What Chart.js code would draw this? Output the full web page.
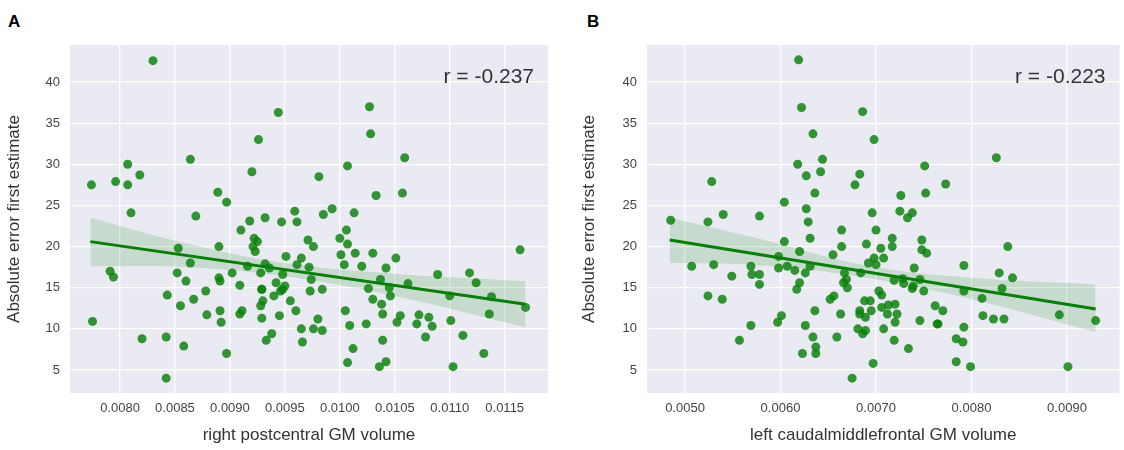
<!DOCTYPE html>
<html>
<head>
<meta charset="utf-8">
<script src="https://cdn.jsdelivr.net/npm/chart.js@4"></script>
<style>
  body { margin: 0; background: #fff; width: 1124px; height: 450px; position: relative; overflow: hidden; font-family: "Liberation Sans", Arial, sans-serif; }
  .panel { position: absolute; top: 0; height: 450px; }
  .tag { position: absolute; top: 12px; font-weight: bold; font-size: 17px; color: #000; }
</style>
</head>
<body>
<div class="tag" style="left:8px">A</div>
<div class="tag" style="left:587px">B</div>
<div class="panel" style="left:0;width:560px"><canvas id="chartA"></canvas></div>
<div class="panel" style="left:575px;width:549px"><canvas id="chartB"></canvas></div>
<script>
// Panel A: right postcentral GM volume vs error
const xA = [0.00830,0.00774,0.00775,0.00796,0.00807,0.00807,0.00818,0.00810,0.00791,0.00794,0.00820,0.00842,0.00842,0.00864,0.00869,0.00853,0.00864,0.00852,0.00860,0.00843,0.00855,0.00867,0.00858,0.00878,0.00879,0.00889,0.00897,0.00890,0.00890,0.00891,0.00891,0.00892,0.00897,0.00902,0.00909,0.00910,0.00918,0.00920,0.00926,0.00922,0.00925,0.00921,0.00923,0.00916,0.00932,0.00932,0.00936,0.00928,0.00929,0.00929,0.00930,0.00928,0.00929,0.00933,0.00911,0.00909,0.00944,0.00947,0.00948,0.00942,0.00950,0.00948,0.00946,0.00940,0.00945,0.00938,0.00951,0.00955,0.00960,0.00959,0.00961,0.00965,0.00961,0.00972,0.00974,0.00973,0.00984,0.00971,0.00976,0.00981,0.00985,0.00993,0.00980,0.00976,0.00984,0.00965,0.00966,0.01007,0.01006,0.01000,0.01007,0.01001,0.01014,0.01004,0.01013,0.01020,0.01026,0.01030,0.01027,0.01028,0.01033,0.01037,0.01042,0.01045,0.01046,0.01030,0.01038,0.01039,0.01005,0.01009,0.01024,0.01012,0.01007,0.01039,0.01036,0.01042,0.01051,0.01059,0.01057,0.01062,0.01055,0.01052,0.01072,0.01070,0.01081,0.01084,0.01078,0.01089,0.01100,0.01101,0.01112,0.01103,0.01118,0.01124,0.01138,0.01136,0.01131,0.01164,0.01169];
const yA = [42.6,27.5,10.9,27.9,30.0,27.5,28.7,24.1,17.0,16.3,8.8,9.0,4.0,30.6,23.7,19.8,18.0,16.8,15.8,14.1,12.8,13.6,7.9,14.6,11.7,26.6,25.4,20.0,16.2,15.8,12.2,10.8,7.0,16.8,15.3,22.0,23.1,29.1,33.0,21.0,20.6,20.0,19.4,17.6,23.5,17.9,17.4,16.8,14.8,14.8,13.4,12.8,11.3,8.6,12.2,11.8,36.3,23.0,16.6,15.6,15.2,14.8,14.6,14.0,11.6,9.4,18.8,13.4,12.2,24.3,23.0,18.6,17.8,17.5,16.0,14.6,14.8,20.8,20.0,28.5,23.9,24.6,11.2,10.0,9.8,10.0,8.4,29.8,22.0,21.0,20.3,19.0,19.2,17.8,24.1,17.6,14.9,19.2,37.0,33.7,26.2,16.0,17.4,15.0,14.0,13.6,13.0,11.8,12.2,10.4,10.6,7.6,5.9,8.6,5.4,6.0,18.6,30.8,26.5,15.5,11.6,10.8,11.7,10.6,11.4,10.3,9.0,16.6,14.0,11.0,9.2,5.4,16.8,15.6,13.9,11.8,7.0,19.6,12.6];
const fitXA = [0.00773, 0.01169];
const fitYA = [20.6, 13.0];
const bandXA = [0.00773, 0.0086, 0.0095, 0.0105, 0.01169];
const bandLoA = [17.6, 17.5, 16.4, 14.0, 10.2];
const bandHiA = [23.5, 20.4, 18.0, 16.7, 15.8];
const ticksA = [0.0080, 0.0085, 0.0090, 0.0095, 0.0100, 0.0105, 0.0110, 0.0115];

// Panel B: left caudalmiddlefrontal GM volume vs error
const xB = [0.00619,0.00622,0.00686,0.00634,0.00698,0.00644,0.00618,0.00642,0.00627,0.00678,0.00683,0.00636,0.00528,0.00751,0.00752,0.00773,0.00826,0.00485,0.00524,0.00540,0.00578,0.00604,0.00627,0.00629,0.00631,0.00604,0.00620,0.00598,0.00696,0.00725,0.00738,0.00733,0.00726,0.00664,0.00700,0.00664,0.00655,0.00690,0.00705,0.00717,0.00717,0.00748,0.00748,0.00753,0.00698,0.00708,0.00692,0.00700,0.00740,0.00507,0.00530,0.00569,0.00598,0.00607,0.00615,0.00631,0.00626,0.00549,0.00570,0.00578,0.00578,0.00667,0.00684,0.00669,0.00666,0.00670,0.00620,0.00617,0.00524,0.00539,0.00703,0.00706,0.00719,0.00728,0.00729,0.00739,0.00738,0.00746,0.00750,0.00792,0.00792,0.00829,0.00838,0.00843,0.00832,0.00811,0.00656,0.00652,0.00688,0.00694,0.00713,0.00720,0.00706,0.00762,0.00770,0.00636,0.00663,0.00683,0.00683,0.00695,0.00712,0.00722,0.00689,0.00601,0.00597,0.00569,0.00626,0.00720,0.00746,0.00764,0.00765,0.00812,0.00823,0.00834,0.00892,0.00930,0.00792,0.00681,0.00689,0.00686,0.00708,0.00557,0.00634,0.00659,0.00719,0.00784,0.00791,0.00637,0.00637,0.00623,0.00734,0.00697,0.00784,0.00799,0.00901,0.00675];
const yB = [42.7,36.9,36.4,33.7,33.0,30.6,30.0,29.1,28.6,27.5,28.8,26.5,27.9,29.8,26.5,27.6,30.8,23.2,23.0,23.9,23.7,25.4,24.6,23.0,21.0,20.6,19.4,18.8,24.1,24.3,24.1,23.5,26.2,22.0,22.0,20.0,19.0,20.3,19.8,21.0,20.0,20.8,19.6,19.2,18.6,18.6,18.0,17.8,17.4,17.6,17.8,17.6,17.4,17.6,17.1,17.6,16.8,16.4,16.6,16.6,15.4,16.8,16.8,16.0,15.6,15.0,15.6,14.8,14.0,13.6,14.6,14.1,15.9,16.1,15.5,15.2,14.9,16.0,14.6,17.7,14.6,16.8,20.0,16.2,14.9,13.7,14.0,13.6,13.4,13.4,12.9,13.0,12.6,12.8,12.2,12.2,11.8,12.2,11.8,12.2,11.8,11.8,11.4,11.6,10.8,10.4,10.4,10.8,11.0,10.6,10.6,11.6,11.2,11.2,11.7,11.0,10.2,10.0,9.8,9.4,10.0,8.6,9.0,9.0,8.6,8.8,8.4,7.8,7.0,7.0,7.6,5.8,6.0,5.4,5.4,4.0];
const fitXB = [0.00484, 0.00930];
const fitYB = [20.8, 12.4];
const bandXB = [0.00484, 0.0058, 0.0069, 0.0080, 0.00930];
const bandLoB = [18.0, 17.7, 16.2, 13.6, 9.6];
const bandHiB = [23.5, 20.9, 17.7, 16.2, 15.4];
const ticksB = [0.0050, 0.0060, 0.0070, 0.0080, 0.0090];

const yTicks = [5, 10, 15, 20, 25, 30, 35, 40];

const bgPlugin = {
  id: 'bg',
  beforeDraw(chart) {
    const a = chart.chartArea, c = chart.ctx;
    c.save();
    c.fillStyle = '#eaeaf2';
    c.fillRect(a.left, a.top, a.right - a.left, a.bottom - a.top);
    c.restore();
  }
};
const rPlugin = {
  id: 'rlabel',
  afterDatasetsDraw(chart, args, opts) {
    const a = chart.chartArea, c = chart.ctx;
    c.save();
    c.font = '21px "Liberation Sans", Arial, sans-serif';
    c.fillStyle = '#333';
    c.textAlign = 'right';
    c.textBaseline = 'middle';
    c.fillText(opts.text, a.right - 14, a.top + 32);
    c.restore();
  }
};

function pts(xs, ys) { return xs.map((x, i) => ({ x: x, y: ys[i] })); }

function makeChart(id, o) {
  const band = 'rgba(0,128,0,0.15)';
  return new Chart(document.getElementById(id), {
    type: 'scatter',
    data: {
      datasets: [
        { type: 'line', data: pts(o.bandX, o.bandLo), borderWidth: 0, pointRadius: 0, fill: false, tension: 0.4 },
        { type: 'line', data: pts(o.bandX, o.bandHi), borderWidth: 0, pointRadius: 0, fill: '-1', backgroundColor: band, tension: 0.4 },
        { data: pts(o.x, o.y), backgroundColor: 'rgba(10,128,10,0.82)', borderWidth: 0, pointRadius: 4.5 },
        { type: 'line', data: pts(o.fitX, o.fitY), borderColor: '#0a7d0a', borderWidth: 3, pointRadius: 0, fill: false }
      ]
    },
    options: {
      responsive: true,
      maintainAspectRatio: false,
      animation: false,
      layout: { padding: { top: 45, right: o.padRight } },
      plugins: { legend: { display: false }, tooltip: { enabled: false }, rlabel: { text: o.r } },
      scales: {
        x: {
          type: 'linear', min: o.xMin, max: o.xMax,
          afterBuildTicks: s => { s.ticks = o.ticks.map(v => ({ value: v })); },
          afterFit: s => { s.height = 57; },
          grid: { color: '#fff', lineWidth: 1.3, drawTicks: false },
          border: { display: false },
          ticks: { color: '#444', font: { size: 13 }, padding: 8, callback: v => v.toFixed(4) },
          title: { display: true, text: o.xTitle, color: '#333', font: { size: 17 }, padding: { top: 6 } }
        },
        y: {
          min: 2.2, max: 44.5,
          afterBuildTicks: s => { s.ticks = yTicks.map(v => ({ value: v })); },
          afterFit: s => { s.width = o.yWidth; },
          grid: { color: '#fff', lineWidth: 1.3, drawTicks: false },
          border: { display: false },
          ticks: { color: '#444', font: { size: 13 }, padding: 10 },
          title: { display: true, text: 'Absolute error first estimate', color: '#333', font: { size: 17 }, padding: { bottom: 4 } }
        }
      }
    },
    plugins: [bgPlugin, rPlugin]
  });
}

makeChart('chartA', { x: xA, y: yA, fitX: fitXA, fitY: fitYA, bandX: bandXA, bandLo: bandLoA, bandHi: bandHiA,
  ticks: ticksA, xMin: 0.007545, xMax: 0.011894, xTitle: 'right postcentral GM volume', r: 'r = -0.237', yWidth: 70, padRight: 12 });
makeChart('chartB', { x: xB, y: yB, fitX: fitXB, fitY: fitYB, bandX: bandXB, bandLo: bandLoB, bandHi: bandHiB,
  ticks: ticksB, xMin: 0.004602, xMax: 0.00955, xTitle: 'left caudalmiddlefrontal GM volume', r: 'r = -0.223', yWidth: 72, padRight: 1 });
</script>
</body>
</html>
